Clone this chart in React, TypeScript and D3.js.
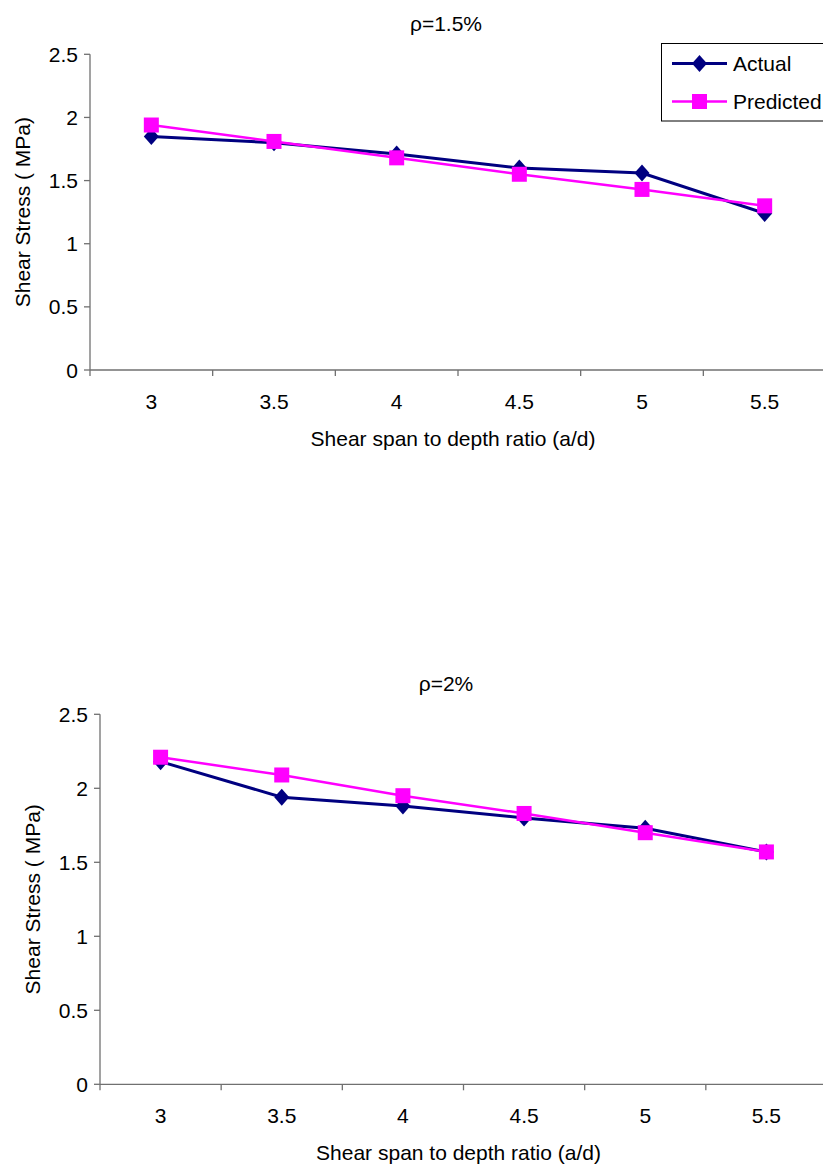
import React from "react";
import * as d3 from "d3";

const categories = ["3", "3.5", "4", "4.5", "5", "5.5"];
const actual15 = [1.85, 1.8, 1.71, 1.6, 1.56, 1.24];
const predicted15 = [1.94, 1.81, 1.68, 1.55, 1.43, 1.3];
const actual2 = [2.18, 1.94, 1.88, 1.8, 1.73, 1.57];
const predicted2 = [2.21, 2.09, 1.95, 1.83, 1.7, 1.57];
const yTicks = [0, 0.5, 1, 1.5, 2, 2.5];
const yTickLabels = ["0", "0.5", "1", "1.5", "2", "2.5"];
const seriesNames = ["Actual", "Predicted"];

const FONT = "'Liberation Sans', Arial, Helvetica, sans-serif";
const NAVY = "#000080";
const MAGENTA = "#FF00FF";
const AXIS = "#707070";

const diamondPath = "M0,-8.5L7.5,0L0,8.5L-7.5,0Z";

function Marker({ kind, x, y }: { kind: string; x: number; y: number }) {
  if (kind === "diamond") {
    return <path d={diamondPath} transform={`translate(${x},${y})`} fill={NAVY} />;
  }
  return <rect x={x - 7.5} y={y - 7.5} width={15} height={15} fill={MAGENTA} />;
}

function Panel({
  title,
  actual,
  predicted,
  left,
  right,
  top,
  bottom,
  legend,
}: {
  title: string;
  actual: number[];
  predicted: number[];
  left: number;
  right: number;
  top: number;
  bottom: number;
  legend: boolean;
}) {
  const x = d3.scaleBand<string>().domain(categories).range([left, right]).padding(0);
  const y = d3.scaleLinear().domain([0, 2.5]).range([bottom, top]);
  const bw = x.bandwidth();
  const cx = (c: string) => (x(c) as number) + bw / 2;
  const line = d3
    .line<number>()
    .x((_, i) => cx(categories[i]))
    .y((d) => y(d));
  const boundaries = d3.range(categories.length + 1).map((i) => left + i * bw);
  const midX = (left + right) / 2;

  return (
    <g fontFamily={FONT}>
      <text x={446} y={top - 23} textAnchor="middle" fontSize={21} fill="#000">
        {title}
      </text>
      {/* axes */}
      <line x1={left} x2={left} y1={top} y2={bottom} stroke={AXIS} strokeWidth={1.3} />
      <line x1={left} x2={right + 10} y1={bottom} y2={bottom} stroke={AXIS} strokeWidth={1.3} />
      {yTicks.map((t, i) => (
        <g key={"yt" + i}>
          <line x1={left - 6} x2={left} y1={y(t)} y2={y(t)} stroke={AXIS} strokeWidth={1.3} />
          <text x={left - 12} y={y(t)} dy="0.36em" textAnchor="end" fontSize={21} fill="#000">
            {yTickLabels[i]}
          </text>
        </g>
      ))}
      {boundaries.map((b, i) => (
        <line key={"xt" + i} x1={b} x2={b} y1={bottom} y2={bottom + 6} stroke={AXIS} strokeWidth={1.3} />
      ))}
      {categories.map((c) => (
        <text key={"xl" + c} x={cx(c)} y={bottom + 38.5} textAnchor="middle" fontSize={21} fill="#000">
          {c}
        </text>
      ))}
      <text x={midX - 5} y={bottom + 76} textAnchor="middle" fontSize={21} fill="#000">
        Shear span to depth ratio (a/d)
      </text>
      <text
        transform={`translate(${left - 60},${(top + bottom) / 2}) rotate(-90)`}
        textAnchor="middle"
        fontSize={21}
        fill="#000"
      >
        Shear Stress ( MPa)
      </text>
      {/* series */}
      <path d={line(actual) || ""} fill="none" stroke={NAVY} strokeWidth={3} />
      {actual.map((v, i) => (
        <Marker key={"a" + i} kind="diamond" x={cx(categories[i])} y={y(v)} />
      ))}
      <path d={line(predicted) || ""} fill="none" stroke={MAGENTA} strokeWidth={2.5} />
      {predicted.map((v, i) => (
        <Marker key={"p" + i} kind="square" x={cx(categories[i])} y={y(v)} />
      ))}
      {legend && (
        <g>
          <rect x={661.5} y={43.5} width={200} height={77.5} fill="#fff" stroke="#000" strokeWidth={1} />
          <line x1={672} x2={727} y1={63.5} y2={63.5} stroke={NAVY} strokeWidth={3} />
          <Marker kind="diamond" x={699.5} y={63.5} />
          <text x={733} y={71} fontSize={21} fill="#000">
            {seriesNames[0]}
          </text>
          <line x1={672} x2={727} y1={101.5} y2={101.5} stroke={MAGENTA} strokeWidth={2.5} />
          <Marker kind="square" x={699.5} y={101.5} />
          <text x={733} y={109} fontSize={21} fill="#000">
            {seriesNames[1]}
          </text>
        </g>
      )}
    </g>
  );
}

export default function App() {
  return (
    <div style={{ position: "absolute", left: 0, top: 0 }}>
      <svg width={823} height={1165} style={{ display: "block", background: "#fff" }}>
        <Panel
          title="ρ=1.5%"
          actual={actual15}
          predicted={predicted15}
          left={90}
          right={826}
          top={54.3}
          bottom={370}
          legend={true}
        />
        <Panel
          title="ρ=2%"
          actual={actual2}
          predicted={predicted2}
          left={100}
          right={827}
          top={714.3}
          bottom={1084.3}
          legend={false}
        />
      </svg>
    </div>
  );
}
